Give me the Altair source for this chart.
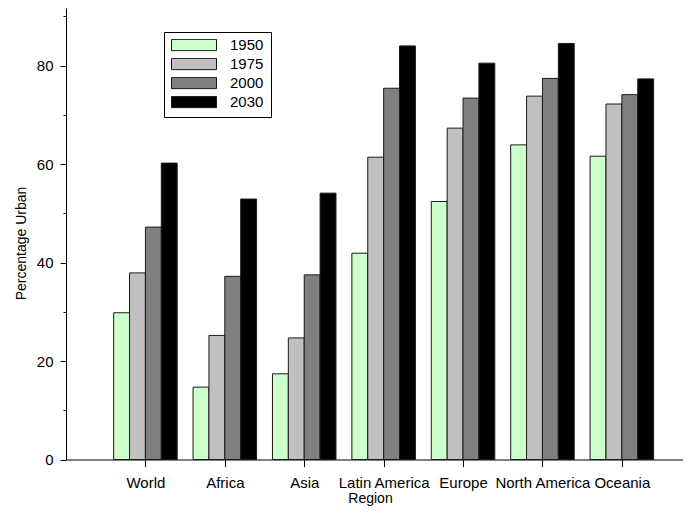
import json
import altair as alt
import pandas as pd

regions = ["World", "Africa", "Asia", "Latin America", "Europe", "North America", "Oceania"]
years = ["1950", "1975", "2000", "2030"]
v1950 = [29.8, 14.7, 17.4, 41.9, 52.4, 63.9, 61.6]
v1975 = [37.9, 25.2, 24.7, 61.4, 67.3, 73.8, 72.2]
v2000 = [47.2, 37.2, 37.5, 75.4, 73.4, 77.4, 74.1]
v2030 = [60.2, 52.9, 54.1, 84.0, 80.5, 84.5, 77.3]
colors = ["#ccffcc", "#c0c0c0", "#808080", "#000000"]
y_ticks = [0, 10, 20, 30, 40, 50, 60, 70, 80, 90]
x_ticks = [1, 2, 3, 4, 5, 6, 7]

rows = []
for j, (yr, vals) in enumerate(zip(years, [v1950, v1975, v2000, v2030])):
    for i, (r, v) in enumerate(zip(regions, vals)):
        rows.append({"Region": r, "Year": yr, "value": v, "pos": i + 1, "slot": j})
df = pd.DataFrame(rows)

FONT = "Liberation Sans"
label_expr = json.dumps(regions) + "[datum.value - 1]"

chart = (
    alt.Chart(df)
    .transform_calculate(x0="datum.pos - 0.4 + 0.2 * datum.slot")
    .transform_calculate(x1="datum.x0 + 0.2")
    .mark_bar(stroke="#1a1a1a", strokeWidth=1)
    .encode(
        x=alt.X(
            "x0:Q",
            scale=alt.Scale(domain=[0, 7.77], nice=False, zero=False),
            axis=alt.Axis(
                values=x_ticks,
                labelExpr=label_expr,
                title="Region",
                tickSize=7,
                labelPadding=9,
                labelFontSize=15,
                labelOverlap=False,
                labelFlush=False,
                titleFontSize=14,
                titleX=304,
                titleY=32,
                titleBaseline="top",
                titleAlign="center",
            ),
        ),
        x2="x1:Q",
        y=alt.Y(
            "value:Q",
            scale=alt.Scale(domain=[0, 91.7], nice=False),
            axis=alt.Axis(
                values=y_ticks,
                labelExpr="datum.value % 20 == 0 ? datum.label : ''",
                tickSize=alt.condition("datum.value % 20 == 0", alt.value(6), alt.value(3)),
                labelPadding=7,
                labelFontSize=15,
                labelOverlap=False,
                title="Percentage Urban",
                titleFontSize=14,
                titleAngle=270,
                titleX=-38,
                titleY=235,
                titleAlign="center",
                titleBaseline="bottom",
            ),
        ),
        y2=alt.datum(0),
        color=alt.Color(
            "Year:N",
            scale=alt.Scale(domain=years, range=colors),
            legend=alt.Legend(
                title=None,
                orient="none",
                legendX=98,
                legendY=24,
                symbolType="M-1,-0.25H1V0.25H-1Z",
                symbolSize=2025,
                symbolStrokeColor="#1a1a1a",
                symbolStrokeWidth=1,
                symbolOpacity=1,
                clipHeight=12,
                labelFontSize=15,
                labelFont=FONT,
                labelColor="black",
                labelOffset=13,
                padding=7,
                rowPadding=4,
                strokeColor="black",
                fillColor="white",
            ),
        ),
    )
    .properties(
        width=617,
        height=451.5,
        padding={"left": 58, "top": 0, "right": 0, "bottom": 46},
        autosize=alt.AutoSizeParams(type="none"),
    )
    .configure_view(stroke=None)
    .configure_axis(
        domainColor="black",
        tickColor="black",
        labelColor="black",
        titleColor="black",
        labelFont=FONT,
        titleFont=FONT,
        titleFontWeight="normal",
        grid=False,
        domainWidth=1,
        tickWidth=1,
    )
)

chart.save("out.html", embed_options={"renderer": "svg", "actions": False})
